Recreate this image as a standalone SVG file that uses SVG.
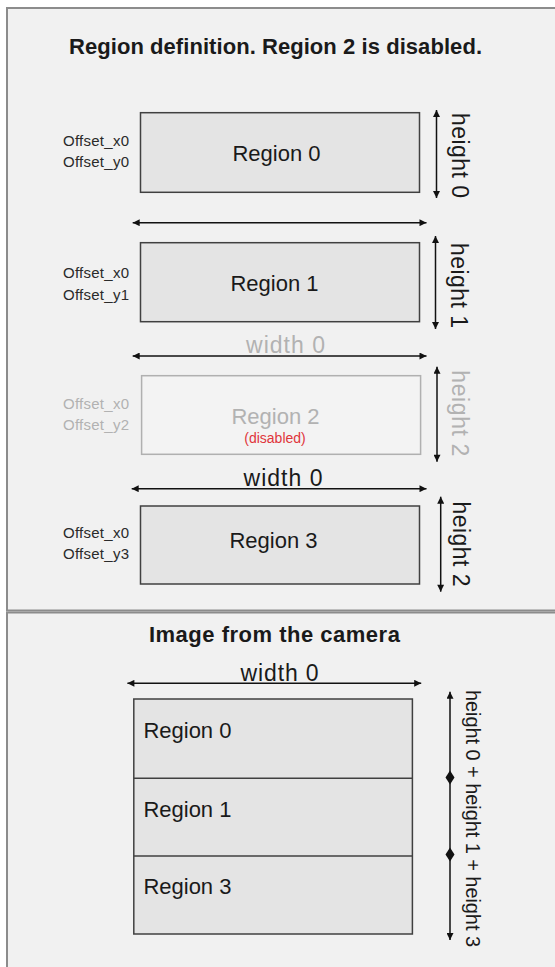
<svg xmlns="http://www.w3.org/2000/svg" width="555" height="967" viewBox="0 0 555 967">
  <style>
    .panel { fill: #f1f1f1; stroke: #8c8c8c; stroke-width: 2; }
    .box { fill: #e4e4e4; stroke: #404040; stroke-width: 1.5; }
    .boxoff { fill: #f3f3f3; stroke: #b0b0b0; stroke-width: 1.5; }
    .title { font-family: "Liberation Sans", Arial, sans-serif; font-weight: bold; font-size: 22px; fill: #1a1a1a; text-anchor: middle; }
    .lbl { font-family: "Liberation Sans", Arial, sans-serif; font-size: 22px; fill: #1a1a1a; text-anchor: middle; }
    .lbll { font-family: "Liberation Sans", Arial, sans-serif; font-size: 22px; fill: #1a1a1a; }
    .dim { font-family: "Liberation Sans", Arial, sans-serif; font-size: 23px; fill: #1a1a1a; text-anchor: middle; }
    .off { font-family: "Liberation Sans", Arial, sans-serif; font-size: 15px; fill: #2a2a2a; text-anchor: end; }
    .gray { fill: #b2b2b2; }
    .red { font-family: "Liberation Sans", Arial, sans-serif; font-size: 14px; fill: #e0353b; text-anchor: middle; }
    .conn line { stroke: #111; stroke-width: 1.5; marker-start: url(#ah); marker-end: url(#ah); }
  </style>
  <defs>
    <marker id="ah" viewBox="0 0 10 10" refX="10" refY="5" markerUnits="userSpaceOnUse" markerWidth="8" markerHeight="7" orient="auto-start-reverse">
      <path d="M0,0 L10,5 L0,10 z" fill="#111"/>
    </marker>
  </defs>

  <g id="panel-top">
    <rect class="panel" x="7" y="8" width="560" height="602.5"/>
  </g>
  <g id="panel-bottom">
    <rect class="panel" x="7" y="612.5" width="560" height="380"/>
  </g>

  <g id="title-top">
    <text class="title" x="275.5" y="54" textLength="413">Region definition. Region 2 is disabled.</text>
  </g>

  <g id="region0">
    <rect class="box" x="140.5" y="112.7" width="279" height="79.6"/>
    <text class="lbl" x="276.5" y="160.7">Region 0</text>
    <text class="off" x="129" y="146" textLength="66">Offset_x0</text>
    <text class="off" x="129" y="167" textLength="66">Offset_y0</text>
  </g>

  <g id="region1">
    <rect class="box" x="140.5" y="242.7" width="279" height="79"/>
    <text class="lbl" x="274.5" y="290.7">Region 1</text>
    <text class="off" x="129" y="278" textLength="66">Offset_x0</text>
    <text class="off" x="129" y="300" textLength="66">Offset_y1</text>
  </g>

  <g id="region2">
    <rect class="boxoff" x="141.6" y="375.7" width="279" height="78.6"/>
    <text class="lbl gray" x="275.5" y="423.5">Region 2</text>
    <text class="red" x="275" y="442.7">(disabled)</text>
    <text class="off gray" x="129" y="408.5" textLength="66">Offset_x0</text>
    <text class="off gray" x="129" y="429.5" textLength="66">Offset_y2</text>
  </g>

  <g id="region3">
    <rect class="box" x="140.5" y="506" width="279" height="78"/>
    <text class="lbl" x="273.5" y="548.3">Region 3</text>
    <text class="off" x="129" y="538.3" textLength="66">Offset_x0</text>
    <text class="off" x="129" y="559.3" textLength="66">Offset_y3</text>
  </g>

  <g id="title-bottom">
    <text class="title" x="274.4" y="642" textLength="251">Image from the camera</text>
  </g>

  <g id="camera-image">
    <rect class="box" x="133.8" y="699" width="278.6" height="235"/>
    <line x1="133.8" y1="778.3" x2="412.4" y2="778.3" stroke="#404040" stroke-width="1.5"/>
    <line x1="133.8" y1="856" x2="412.4" y2="856" stroke="#404040" stroke-width="1.5"/>
    <text class="lbll" x="143.4" y="738.3">Region 0</text>
    <text class="lbll" x="143.4" y="816.7">Region 1</text>
    <text class="lbll" x="143.4" y="894">Region 3</text>
  </g>

  <g id="dimension-labels">
    <text class="dim gray" x="285.5" y="353" textLength="79">width 0</text>
    <text class="dim" x="283" y="486" textLength="79">width 0</text>
    <text class="dim" x="279.6" y="681" textLength="78">width 0</text>
    <text class="dim" transform="translate(451.5,155.5) rotate(90)" textLength="85">height 0</text>
    <text class="dim" transform="translate(451,285.5) rotate(90)" textLength="85">height 1</text>
    <text class="dim gray" transform="translate(452,413.3) rotate(90)" textLength="86">height 2</text>
    <text class="dim" transform="translate(453,544) rotate(90)" textLength="85">height 2</text>
    <text class="dim" style="font-size:20px" transform="translate(466,818.5) rotate(90)" textLength="257">height 0 + height 1 + height 3</text>
  </g>

  <g id="connectors" class="conn">
    <line x1="132.7" y1="222.7" x2="426.5" y2="222.7"/>
    <line x1="132.7" y1="356" x2="426.5" y2="356"/>
    <line x1="131.7" y1="488.7" x2="426.5" y2="488.7"/>
    <line x1="127.4" y1="683.3" x2="421.2" y2="683.3"/>
    <line x1="436.5" y1="110" x2="436.5" y2="198"/>
    <line x1="435.5" y1="236" x2="435.5" y2="329"/>
    <line x1="437" y1="366.7" x2="437" y2="461.7"/>
    <line x1="440.7" y1="496.7" x2="440.7" y2="591.7"/>
    <line x1="450" y1="691.7" x2="450" y2="940"/>
    <polygon points="450,770.5 454.5,777.5 450,784.5 445.5,777.5" fill="#111"/>
    <polygon points="450,847.5 454.5,854.5 450,861.5 445.5,854.5" fill="#111"/>
  </g>
</svg>
